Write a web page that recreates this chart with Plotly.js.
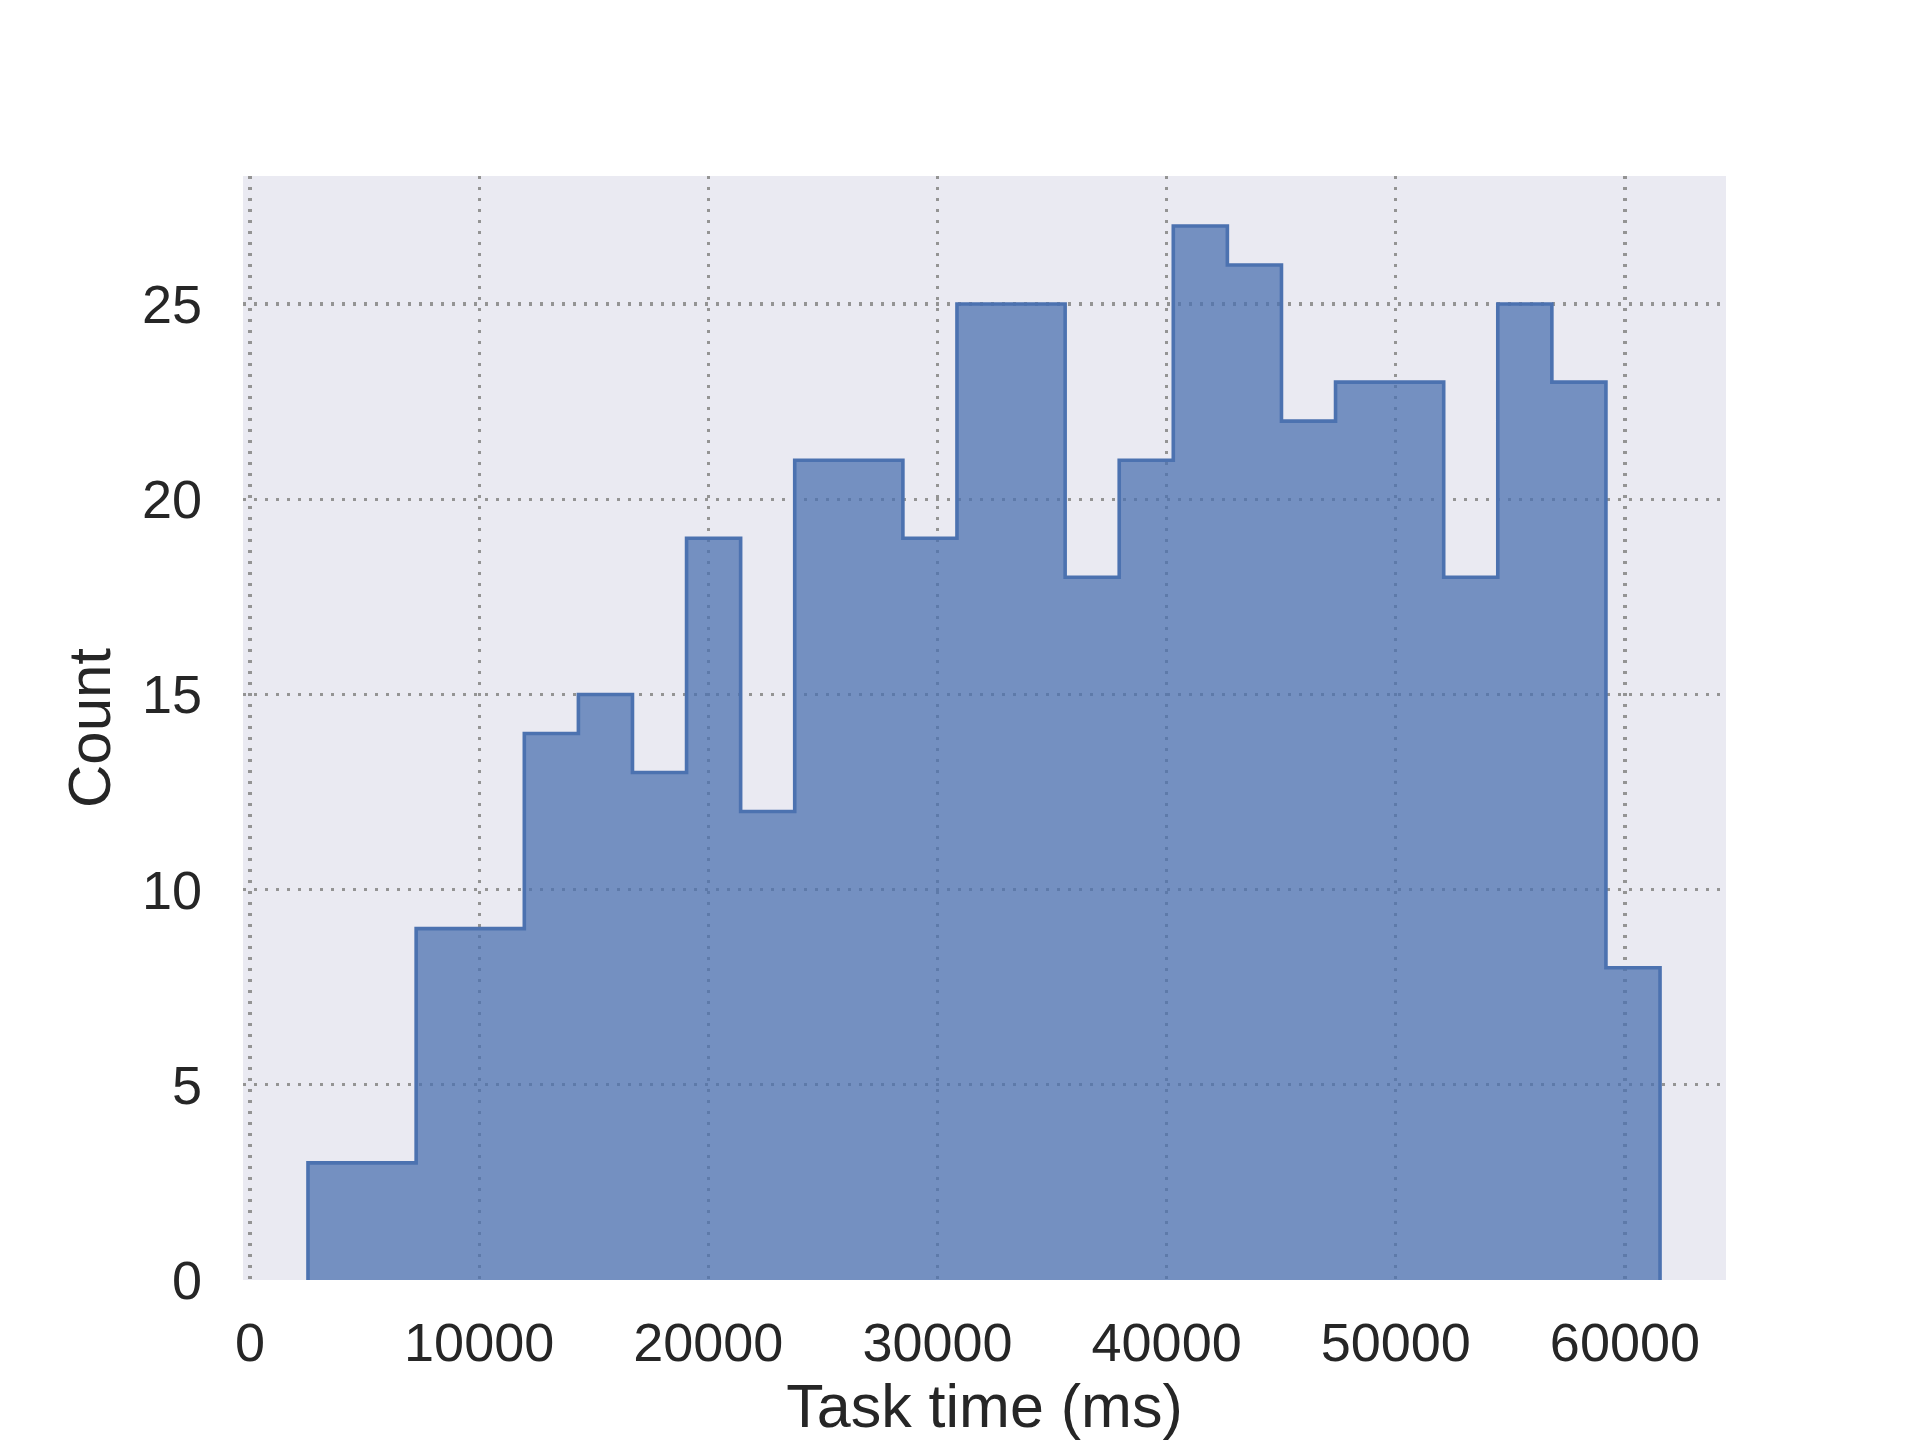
<!DOCTYPE html>
<html>
<head>
<meta charset="utf-8">
<script src="https://cdn.plot.ly/plotly-3.0.1.min.js"></script>
<style>html,body{margin:0;padding:0;background:#fff;}#chart{width:1920px;height:1440px;}</style>
</head>
<body>
<div id="chart"></div>
<script>
// Histogram bin edges (ms) and counts
const binEdges = [2531, 4891, 7251, 9611, 11971, 14331, 16691, 19051, 21411, 23771,
                  26131, 28491, 30851, 33211, 35571, 37931, 40291, 42651, 45011, 47371,
                  49731, 52091, 54451, 56811, 59171, 61531];
const counts = [3, 3, 9, 9, 14, 15, 13, 19, 12, 21, 21, 19, 25, 25, 18, 21, 27, 26, 22, 23, 23, 18, 25, 23, 8];
const xTicks = [0, 10000, 20000, 30000, 40000, 50000, 60000];
const yTicks = [0, 5, 10, 15, 20, 25];
const xLabel = 'Task time (ms)';
const yLabel = 'Count';

// Build step outline: start at 0, step through bins, back to 0
const xs = [binEdges[0]];
const ys = [0];
for (let i = 0; i < counts.length; i++) {
  xs.push(binEdges[i]); ys.push(counts[i]);
}
xs.push(binEdges[binEdges.length - 1]); ys.push(counts[counts.length - 1]);
xs.push(binEdges[binEdges.length - 1]); ys.push(0);

const trace = {
  type: 'scatter',
  mode: 'lines',
  x: xs,
  y: ys,
  line: {shape: 'hv', color: '#4c72b0', width: 3.6},
  fill: 'tozeroy',
  fillcolor: 'rgba(76,114,176,0.75)',
  hoverinfo: 'skip'
};

const font = {family: 'Liberation Sans, Arial, sans-serif', color: '#262626'};

const layout = {
  width: 1920, height: 1440,
  paper_bgcolor: '#ffffff',
  plot_bgcolor: '#eaeaf2',
  margin: {l: 243, r: 194, t: 176, b: 160, pad: 0},
  showlegend: false,
  font: font,
  xaxis: {
    range: [-305, 64410],
    tickvals: xTicks,
    ticktext: xTicks.map(String),
    ticks: '',
    ticklabelstandoff: 26,
    tickfont: {size: 54, color: '#262626', family: font.family},
    showgrid: true,
    gridcolor: '#949494',
    gridwidth: 3.3,
    griddash: '3px,8px',
    zeroline: false,
    showline: false,
    title: {text: xLabel, font: {size: 61, color: '#262626', family: font.family}, standoff: 8}
  },
  yaxis: {
    range: [0, 28.28],
    tickvals: yTicks,
    ticktext: yTicks.map(String),
    ticks: '',
    ticklabelstandoff: 40,
    tickfont: {size: 54, color: '#262626', family: font.family},
    showgrid: true,
    gridcolor: '#949494',
    gridwidth: 3.3,
    griddash: '3px,8px',
    zeroline: false,
    showline: false,
    title: {text: yLabel, font: {size: 60, color: '#262626', family: font.family}, standoff: 11}
  }
};

Plotly.newPlot('chart', [trace], layout, {displayModeBar: false, staticPlot: true});
</script>
</body>
</html>
